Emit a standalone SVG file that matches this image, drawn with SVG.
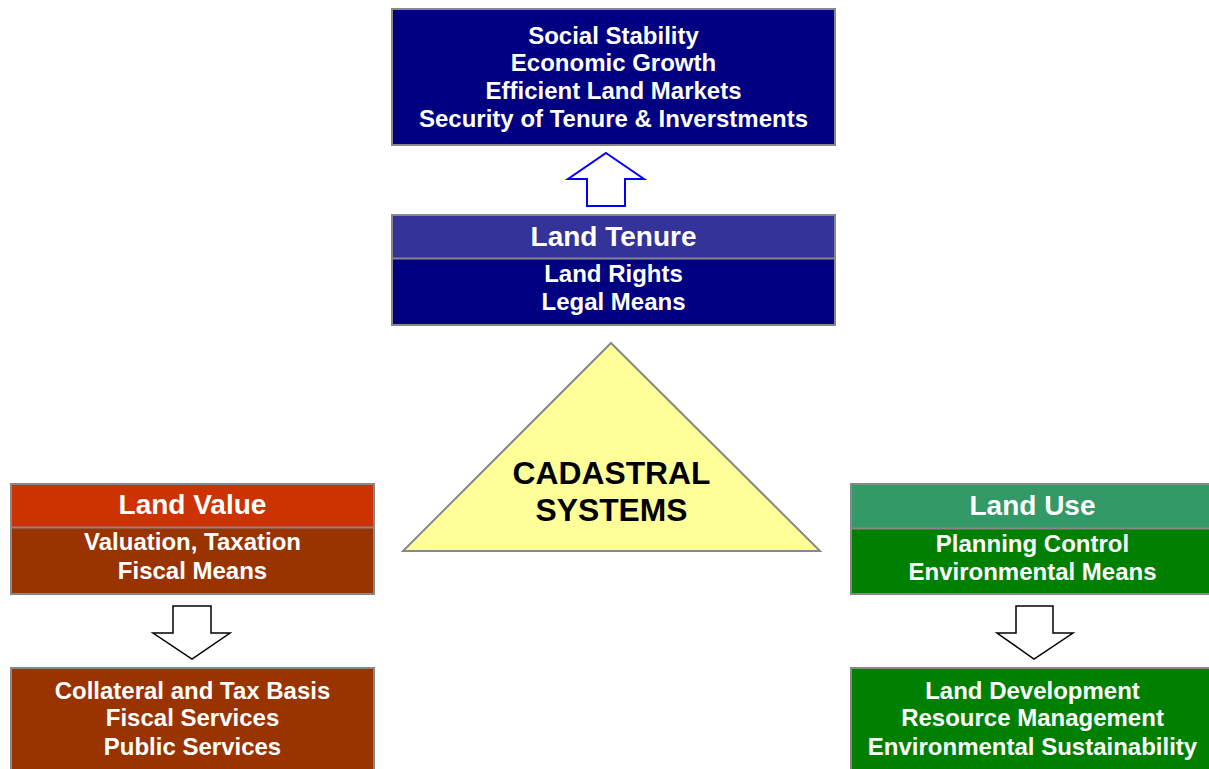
<svg xmlns="http://www.w3.org/2000/svg" width="1209" height="769" viewBox="0 0 1209 769">
<style>
text{font-family:"Liberation Sans",Arial,sans-serif;font-weight:bold;text-anchor:middle;fill:#fff}
.b{font-size:24px}
.h{font-size:28px}
.box{stroke:#888;stroke-width:2}
.t{fill:#000;font-size:31.8px}
</style>
<rect width="1209" height="769" fill="#fff"/>
<g id="outcomes">
<rect class="box" x="392" y="9" width="443" height="136" fill="#000080"/>
<text class="b" x="613.5" y="44">Social Stability</text>
<text class="b" x="613.5" y="71">Economic Growth</text>
<text class="b" x="613.5" y="99">Efficient Land Markets</text>
<text class="b" x="613.5" y="126.5">Security of Tenure &amp; Inverstments</text>
</g>
<g id="land-tenure">
<rect class="box" x="392" y="215" width="443" height="110" fill="#000080"/>
<rect x="393" y="216" width="441" height="42" fill="#333399"/>
<line x1="392" y1="258.5" x2="835" y2="258.5" stroke="#888" stroke-width="2"/>
<text class="h" x="613.5" y="246">Land Tenure</text>
<text class="b" x="613.5" y="282">Land Rights</text>
<text class="b" x="613.5" y="309.5">Legal Means</text>
</g>
<g id="cadastral">
<polygon points="611,343 820,551 403,551" fill="#FFFF99" stroke="#888" stroke-width="2"/>
<text class="t" x="611.5" y="484">CADASTRAL</text>
<text class="t" x="611.5" y="520.5">SYSTEMS</text>
</g>
<g id="land-value">
<rect class="box" x="11" y="484" width="363" height="110" fill="#993300"/>
<rect x="12" y="485" width="361" height="42" fill="#CC3300"/>
<line x1="11" y1="527.5" x2="374" y2="527.5" stroke="#888" stroke-width="2"/>
<text class="h" x="192.5" y="513.5">Land Value</text>
<text class="b" x="192.5" y="550">Valuation, Taxation</text>
<text class="b" x="192.5" y="578.5">Fiscal Means</text>
</g>
<g id="fiscal-outcomes">
<rect class="box" x="11" y="668" width="363" height="110" fill="#993300"/>
<text class="b" x="192.5" y="698.5">Collateral and Tax Basis</text>
<text class="b" x="192.5" y="726">Fiscal Services</text>
<text class="b" x="192.5" y="754.5">Public Services</text>
</g>
<g id="land-use">
<rect class="box" x="851" y="484" width="363" height="110" fill="#008000"/>
<rect x="852" y="485" width="361" height="43" fill="#339966"/>
<line x1="851" y1="528.5" x2="1214" y2="528.5" stroke="#888" stroke-width="2"/>
<text class="h" x="1032.5" y="514.5">Land Use</text>
<text class="b" x="1032.5" y="551.5">Planning Control</text>
<text class="b" x="1032.5" y="579.5">Environmental Means</text>
</g>
<g id="env-outcomes">
<rect class="box" x="851" y="668" width="363" height="110" fill="#008000"/>
<text class="b" x="1032.5" y="698.5">Land Development</text>
<text class="b" x="1032.5" y="726">Resource Management</text>
<text class="b" x="1032.5" y="754.5">Environmental Sustainability</text>
</g>
<g id="connectors">
<polygon points="606,153 644,179 625,179 625,206 587,206 587,179 568,179" fill="#fff" stroke="#0000FF" stroke-width="2" stroke-linejoin="miter"/>
<polygon points="173,606 211,606 211,633 230,633 192,659 153,633 173,633" fill="#fff" stroke="#000" stroke-width="1.5"/>
<polygon points="1016,606 1053,606 1053,633 1073,633 1034,659 997,633 1016,633" fill="#fff" stroke="#000" stroke-width="1.5"/>
</g>
</svg>
